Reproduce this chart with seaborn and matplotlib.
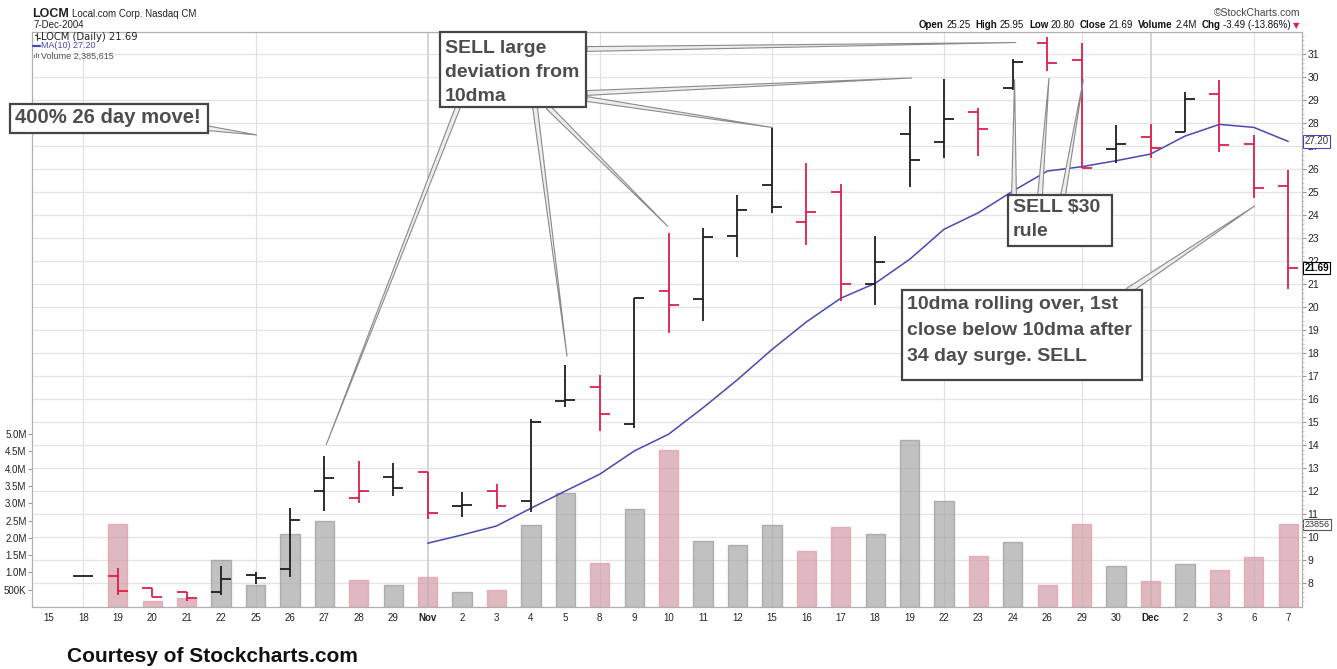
import numpy as np
import pandas as pd
import matplotlib
matplotlib.use("Agg")
import matplotlib.pyplot as plt
from matplotlib.patches import Rectangle, Polygon
from matplotlib.lines import Line2D
from matplotlib.transforms import blended_transform_factory
import seaborn as sns

W, H = 1337, 669

# ---- LOCM daily data, 15-Oct-2004 .. 7-Dec-2004 ----
day_labels = ["15", "18", "19", "20", "21", "22", "25", "26", "27", "28", "29",
              "Nov", "2", "3", "4", "5", "8", "9", "10", "11", "12", "15", "16", "17",
              "18", "19", "22", "23", "24", "26", "29", "30", "Dec", "2", "3", "6", "7"]
opens = [np.nan, 8.32, 8.32, 7.80, 7.60, 7.60, 8.35, 8.60, 12.00, 11.71, 12.62,
         12.84, 11.35, 12.00, 11.57, 15.90, 16.54, 14.90, 20.71, 20.33, 23.09, 25.30,
         23.71, 24.99, 20.99, 27.51, 27.19, 28.47, 29.51, 31.46, 30.74, 26.87, 27.40,
         27.60, 29.26, 27.07, 25.25]
highs = [np.nan, 8.32, 8.64, 7.80, 7.60, 8.75, 8.49, 11.25, 13.53, 13.30, 13.23,
         12.84, 11.97, 12.30, 15.13, 17.48, 17.04, 20.41, 23.20, 23.45, 24.86, 27.80,
         26.25, 25.33, 23.09, 28.74, 29.90, 28.67, 30.77, 31.75, 31.50, 27.91, 27.96,
         29.36, 29.87, 27.48, 25.95]
lows = [np.nan, 8.32, 7.48, 7.40, 7.20, 7.46, 7.94, 8.27, 11.14, 11.49, 11.80,
        10.77, 10.86, 11.20, 11.10, 15.67, 14.62, 14.72, 18.86, 19.41, 22.19, 24.10,
        22.70, 20.26, 20.07, 25.20, 26.47, 26.58, 29.45, 30.27, 26.06, 26.25, 26.47,
        27.60, 26.75, 24.73, 20.80]
closes = [np.nan, 8.32, 7.65, 7.40, 7.37, 8.16, 8.23, 10.74, 12.58, 12.00, 12.12,
          11.03, 11.39, 11.35, 14.99, 15.95, 15.33, 20.41, 20.09, 23.04, 24.20, 24.36,
          24.14, 20.99, 21.94, 26.39, 28.16, 27.73, 30.64, 30.60, 26.06, 27.07, 26.93,
          29.04, 27.04, 25.18, 21.69]
volume = [0, 0, 2400000, 170000, 270000, 1360000, 640000, 2110000, 2490000, 780000,
          640000, 860000, 420000, 490000, 2370000, 3290000, 1270000, 2820000, 4540000,
          1910000, 1790000, 2370000, 1620000, 2300000, 2100000, 4820000, 3060000,
          1470000, 1870000, 640000, 2390000, 1180000, 740000, 1230000, 1060000,
          1450000, 2385615]
ma10 = [np.nan] * 11 + [9.73, 10.09, 10.48, 11.25, 12.00, 12.73, 13.74, 14.47, 15.62,
                        16.84, 18.15, 19.35, 20.38, 21.03, 22.07, 23.38, 24.10, 25.04,
                        25.91, 26.10, 26.36, 26.65, 27.43, 27.94, 27.81, 27.20]
grid_days = [1, 6, 11, 16, 21, 26, 30, 32, 35]      # Mondays and month starts
month_days = [11, 32]
price_ticks = list(range(8, 32))
vol_ticks = [500000, 1000000, 1500000, 2000000, 2500000, 3000000, 3500000,
             4000000, 4500000, 5000000]
vol_tick_labels = ["500K", "1.0M", "1.5M", "2.0M", "2.5M", "3.0M", "3.5M",
                   "4.0M", "4.5M", "5.0M"]

df = pd.DataFrame({"day": np.arange(len(day_labels)), "open": opens, "high": highs,
                   "low": lows, "close": closes, "volume": volume, "ma10": ma10})
prev = df["close"].shift(1)
df["up"] = (df["close"] >= prev) | prev.isna()

UP, DOWN = "#1e1e1e", "#dc1f4c"
MA_COL = "#4848b4"

sns.set_theme(style="white")
plt.rcParams["font.family"] = ["Liberation Sans", "DejaVu Sans"]

fig = plt.figure(figsize=(W / 100, H / 100), dpi=100)
fig.patch.set_facecolor("white")
L, R, T, B = 32, 1302, 32, 607
ax_v = fig.add_axes([L / W, 1 - B / H, (R - L) / W, (B - T) / H])
ax_p = ax_v.twinx()

X_LO, X_HI = -0.494, 36.40
P_LO, P_HI = 6.957, 31.957
V_HI = 16.62e6

# gridlines (price levels mapped onto the volume axis so they sit behind the bars)
for p in price_ticks:
    v = (p - P_LO) / (P_HI - P_LO) * V_HI
    ax_v.axhline(v, color="#e4e4e4", lw=0.9, zorder=0)
for d in grid_days:
    ax_v.axvline(d, color="#d4d4d4" if d in month_days else "#e2e2e2",
                 lw=1.4 if d in month_days else 0.9, zorder=0)

# volume bars
vol_df = df[df["volume"] > 0]
sns.barplot(data=vol_df[vol_df["up"]], x="day", y="volume", native_scale=True,
            width=0.56, color="#a9a9a9", edgecolor="#9a9a9a", linewidth=1,
            alpha=0.72, errorbar=None, ax=ax_v, zorder=2)
sns.barplot(data=vol_df[~vol_df["up"]], x="day", y="volume", native_scale=True,
            width=0.56, color="#dc95a3", edgecolor="#e49aa8", linewidth=1,
            alpha=0.72, errorbar=None, ax=ax_v, zorder=2)

# 10-day moving average
sns.lineplot(data=df, x="day", y="ma10", ax=ax_p, color=MA_COL, lw=1.1, zorder=3)

# OHLC bars
pr = df.dropna(subset=["close"])
cols = [UP if u else DOWN for u in pr["up"]]
ax_p.vlines(pr["day"], pr["low"], pr["high"], colors=cols, lw=1.3, zorder=4)
ax_p.hlines(pr["open"], pr["day"] - 0.29, pr["day"], colors=cols, lw=1.3, zorder=4)
ax_p.hlines(pr["close"], pr["day"], pr["day"] + 0.29, colors=cols, lw=1.3, zorder=4)

# axes, ticks, spines
ax_v.set_xlim(X_LO, X_HI)
ax_p.set_xlim(X_LO, X_HI)
ax_v.set_ylim(0, V_HI)
ax_p.set_ylim(P_LO, P_HI)
for a in (ax_v, ax_p):
    a.set_xlabel("")
    a.set_ylabel("")
    for s in a.spines.values():
        s.set_color("#b0b0b0")
        s.set_linewidth(0.8)
ax_v.set_xticks(range(len(day_labels)))
ax_v.set_xticklabels(day_labels, fontsize=7, color="#222")
for d in month_days:
    ax_v.get_xticklabels()[d].set_fontweight("bold")
ax_v.tick_params(axis="x", length=2, pad=2, color="#999")
ax_v.set_yticks(vol_ticks)
ax_v.set_yticklabels(vol_tick_labels, fontsize=7, color="#222")
ax_v.tick_params(axis="y", length=3, width=0.8, pad=1, color="#999", left=True)
ax_p.set_yticks(price_ticks)
ax_p.set_yticklabels([str(p) for p in price_ticks], fontsize=7.5, color="#222")
ax_p.set_yticks(np.arange(7.2, 31.9, 0.2), minor=True)
ax_p.tick_params(axis="y", which="major", length=3, width=0.8, pad=1, color="#999", right=True)
ax_p.tick_params(axis="y", which="minor", length=1.5, width=0.6, color="#bbb", right=True)
ax_p.tick_params(axis="x", bottom=False, top=False, labelbottom=False)

# last-value tags on the right axis
bt = blended_transform_factory(ax_p.transAxes, ax_p.transData)
ax_p.text(1.002, ma10[-1], f"{ma10[-1]:.2f}", transform=bt, fontsize=7, color="#333",
          ha="left", va="center", clip_on=False, zorder=6,
          bbox=dict(boxstyle="square,pad=0.12", fc="white", ec=MA_COL, lw=0.8))
ax_p.text(1.002, closes[-1], f"{closes[-1]:.2f}", transform=bt, fontsize=7, color="black",
          fontweight="bold", ha="left", va="center", clip_on=False, zorder=6,
          bbox=dict(boxstyle="square,pad=0.12", fc="white", ec="black", lw=0.8))
bv = blended_transform_factory(ax_v.transAxes, ax_v.transData)
ax_v.text(1.002, volume[-1], str(volume[-1])[:5], transform=bv, fontsize=6.5, color="#333",
          ha="left", va="center", clip_on=False, zorder=6,
          bbox=dict(boxstyle="square,pad=0.12", fc="white", ec="#555", lw=0.8))


def fx(px):
    return px / W


def fy(py):
    return 1 - py / H


fig.canvas.draw()
rend = fig.canvas.get_renderer()

# header
t_sym = fig.text(fx(32), fy(14), "LOCM", fontsize=9, fontweight="bold", color="#222",
                 va="center")
sym_w = t_sym.get_window_extent(renderer=rend).width
fig.text(fx(32 + sym_w + 3), fy(14), "Local.com Corp. Nasdaq CM", fontsize=7, color="#222",
         va="center")
fig.text(fx(33), fy(25.5), "7-Dec-2004", fontsize=7, color="#222", va="center")
fig.text(fx(1300), fy(13), "\u00a9StockCharts.com", fontsize=7.5, color="#444",
         ha="right", va="center")

pieces = [("Open", True), ("25.25", False), ("High", True), ("25.95", False),
          ("Low", True), ("20.80", False), ("Close", True), ("21.69", False),
          ("Volume", True), ("2.4M", False), ("Chg", True), ("-3.49 (-13.86%)", False)]
# lay the quote line out from its right end so it finishes at the chart edge
placed = []
for txt, bold in pieces:
    t = fig.text(0, fy(25.5), txt, fontsize=7, color="#111",
                 fontweight="bold" if bold else "normal", va="center")
    placed.append((t, t.get_window_extent(renderer=rend).width, bold))
x = 1291
for t, wd, bold in reversed(placed):
    x -= wd
    t.set_x(fx(x))
    x -= 5 if bold else 2.5
fig.text(fx(1293), fy(25.5), "\u25bc", fontsize=6, color=DOWN, va="center",
         family="DejaVu Sans")

# legend block inside the chart
fig.add_artist(Line2D([fx(37), fx(37)], [fy(32.5), fy(40)], color="#333", lw=0.8))
fig.add_artist(Line2D([fx(34.5), fx(37)], [fy(34.5), fy(34.5)], color="#333", lw=0.8))
fig.add_artist(Line2D([fx(37), fx(39.5)], [fy(37.5), fy(37.5)], color="#333", lw=0.8))
fig.text(fx(41), fy(36.5), "LOCM (Daily) 21.69", fontsize=7.2, color="#222", va="center",
         family="DejaVu Sans")
fig.add_artist(Line2D([fx(33), fx(40)], [fy(46), fy(46)], color=MA_COL, lw=1.6))
fig.text(fx(41), fy(46), "MA(10) 27.20", fontsize=6.5, color=MA_COL, va="center")
for k, hgt in enumerate([3, 5, 4]):
    fig.add_artist(Rectangle((fx(34 + 2 * k), fy(58)), 1.3 / W, hgt / H, color="#777",
                             lw=0))
fig.text(fx(41), fy(56), "Volume 2,385,615", fontsize=6.5, color="#555", va="center")

# callout boxes and pointers
to_fig = fig.transFigure.inverted()


def pointer(base_px, tip, half=2.4):
    tip_d = ax_p.transData.transform(tip)
    bx, by = base_px[0], H - base_px[1]
    dx, dy = tip_d[0] - bx, tip_d[1] - by
    n = np.hypot(dx, dy)
    ox, oy = -dy / n * half, dx / n * half
    pts = to_fig.transform([(bx + ox, by + oy), (bx - ox, by - oy), tip_d])
    fig.add_artist(Polygon(pts, closed=True, transform=fig.transFigure, fc="#ededed",
                           ec="#8a8a8a", lw=0.8, zorder=8))


def callout(x0, y0, x1, y1, text, size=14, first=7, spacing=1.5):
    fig.add_artist(Rectangle((fx(x0), fy(y1)), (x1 - x0) / W, (y1 - y0) / H,
                             transform=fig.transFigure, fc="white", ec="#454545",
                             lw=1.6, zorder=9))
    fig.text(fx(x0 + 5), fy(y0 + first), text, fontsize=size, fontweight="bold",
             color="#4d4d4d", va="top", ha="left", linespacing=spacing, zorder=10)


pointer((206, 128), (6.04, 27.48))
for base, tip in [((587, 49), (28.10, 31.50)), ((587, 93), (25.07, 29.96)),
                  ((587, 99), (21.03, 27.80)), ((548, 107), (17.98, 23.50)),
                  ((535, 107), (15.05, 17.85)), ((458, 107), (8.05, 14.00))]:
    pointer(base, tip)
for base, tip in [((1014, 196), (28.05, 29.90)), ((1040, 196), (29.05, 29.96)),
                  ((1063, 196), (30.05, 29.90))]:
    pointer(base, tip)
pointer((1128, 291), (35.03, 24.40), half=3)

callout(10, 104, 208, 133, "400% 26 day move!", size=14.6, first=4)
callout(440, 32, 586, 107, "SELL large\ndeviation from\n10dma", first=8, spacing=1.55)
callout(1008, 195, 1112, 246, "SELL $30\nrule", first=4, spacing=1.5)
callout(902, 290, 1142, 380, "10dma rolling over, 1st\nclose below 10dma after\n34 day surge. SELL",
        first=6, spacing=1.68)

fig.text(fx(67), fy(656), "Courtesy of Stockcharts.com", fontsize=15, fontweight="bold",
         color="#111", va="center")

fig.savefig("out.png", dpi=100, facecolor="white")
